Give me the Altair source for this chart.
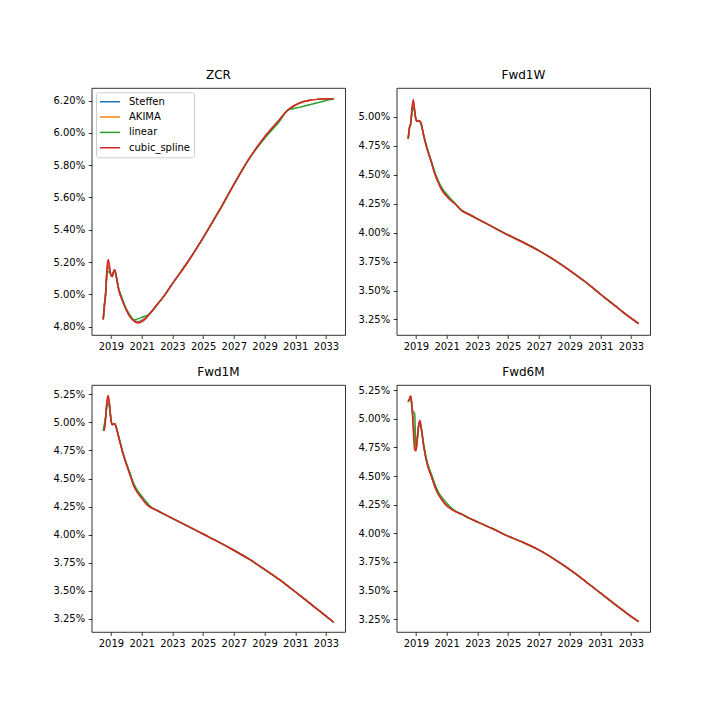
import altair as alt
import pandas as pd

SERIES = ["Steffen", "AKIMA", "linear", "cubic_spline"]
COLORS = ["#1f77b4", "#ff7f0e", "#2ca02c", "#d62728"]

T_EARLY = [2018.5, 2018.58, 2018.66, 2018.75, 2018.83, 2018.92, 2019.0, 2019.08, 2019.17,
           2019.25, 2019.33, 2019.5, 2019.67, 2019.83, 2020.0, 2020.25, 2020.5, 2020.75,
           2021.0, 2021.25, 2021.5]
T_TAIL = [2022.0, 2022.5, 2023.0, 2024.0, 2025.0, 2026.0, 2027.0, 2028.0, 2029.0, 2030.0,
          2030.5, 2031.0, 2031.5, 2032.0, 2032.5, 2033.0, 2033.5]
X_TICKS = [2019, 2021, 2023, 2025, 2027, 2029, 2031, 2033]

# ---- ZCR (%) ----
ZCR_STEFFEN = [4.845, 4.935, 5.01, 5.15, 5.17, 5.145, 5.12, 5.11, 5.138, 5.15, 5.12, 5.035,
               4.985, 4.945, 4.906, 4.862, 4.838, 4.83, 4.838, 4.855, 4.878]
ZCR_AKIMA = [4.845, 4.932, 5.005, 5.16, 5.19, 5.155, 5.12, 5.11, 5.14, 5.151, 5.12, 5.032,
             4.982, 4.942, 4.905, 4.861, 4.836, 4.826, 4.834, 4.851, 4.876]
ZCR_LINEAR = [4.845, 4.94, 5.02, 5.12, 5.14, 5.14, 5.12, 5.11, 5.135, 5.148, 5.12, 5.04,
              4.99, 4.95, 4.91, 4.87, 4.842, 4.848, 4.857, 4.866, 4.878]
ZCR_CUBIC = [4.845, 4.93, 5.0, 5.17, 5.215, 5.17, 5.12, 5.11, 5.14, 5.152, 5.12, 5.03,
             4.98, 4.94, 4.904, 4.86, 4.835, 4.822, 4.83, 4.848, 4.875]
ZCR_TAIL = [4.935, 4.995, 5.065, 5.2, 5.35, 5.51, 5.68, 5.84, 5.975, 6.085, 6.14, 6.172, 6.193,
            6.203, 6.208, 6.211, 6.212]
ZCR_TAIL_LINEAR = [4.935, 4.995, 5.065, 5.2, 5.35, 5.51, 5.68, 5.84, 5.965, 6.075, 6.14, 6.152,
                   6.164, 6.176, 6.188, 6.2, 6.212]

# ---- Fwd1W (%) ----
F1W_STEFFEN = [4.81, 4.905, 4.94, 5.06, 5.11, 5.05, 4.98, 4.962, 4.968, 4.963, 4.945, 4.845,
               4.755, 4.685, 4.615, 4.505, 4.425, 4.362, 4.322, 4.285, 4.257]
F1W_AKIMA = [4.81, 4.908, 4.94, 5.07, 5.13, 5.055, 4.98, 4.962, 4.969, 4.964, 4.948, 4.842,
             4.752, 4.682, 4.612, 4.502, 4.422, 4.358, 4.318, 4.282, 4.256]
F1W_LINEAR = [4.81, 4.9, 4.94, 5.05, 5.08, 5.04, 4.98, 4.962, 4.965, 4.96, 4.94, 4.85,
              4.76, 4.69, 4.62, 4.515, 4.435, 4.375, 4.335, 4.295, 4.26]
F1W_CUBIC = [4.81, 4.91, 4.94, 5.08, 5.15, 5.06, 4.98, 4.962, 4.97, 4.965, 4.95, 4.84,
             4.75, 4.68, 4.61, 4.5, 4.42, 4.355, 4.315, 4.28, 4.255]
F1W_TAIL = [4.19, 4.155, 4.12, 4.05, 3.98, 3.915, 3.845, 3.765, 3.675, 3.578, 3.525, 3.47,
            3.418, 3.365, 3.312, 3.262, 3.215]

# ---- Fwd1M (%) ----
F1M_STEFFEN = [4.93, 4.96, 5.05, 5.18, 5.21, 5.14, 5.03, 4.98, 4.985, 4.988, 4.963, 4.875,
               4.785, 4.705, 4.635, 4.537, 4.44, 4.38, 4.335, 4.29, 4.255]
F1M_AKIMA = [4.93, 4.95, 5.05, 5.19, 5.225, 5.145, 5.03, 4.98, 4.985, 4.989, 4.964, 4.872,
             4.782, 4.702, 4.632, 4.533, 4.435, 4.375, 4.33, 4.285, 4.252]
F1M_LINEAR = [4.93, 4.99, 5.05, 5.15, 5.17, 5.12, 5.03, 4.98, 4.985, 4.985, 4.96, 4.88,
              4.79, 4.71, 4.64, 4.545, 4.45, 4.39, 4.345, 4.3, 4.26]
F1M_CUBIC = [4.93, 4.93, 5.05, 5.2, 5.24, 5.15, 5.03, 4.98, 4.985, 4.99, 4.965, 4.87,
             4.78, 4.7, 4.63, 4.53, 4.43, 4.37, 4.325, 4.28, 4.25]
F1M_TAIL = [4.215, 4.18, 4.145, 4.075, 4.005, 3.935, 3.86, 3.78, 3.69, 3.595, 3.543, 3.49,
            3.436, 3.382, 3.327, 3.272, 3.218]

# ---- Fwd6M (%) ----
F6M_STEFFEN = [5.148, 5.17, 5.195, 5.095, 4.98, 4.85, 4.73, 4.81, 4.93, 4.982, 4.932, 4.772,
               4.645, 4.565, 4.505, 4.405, 4.335, 4.285, 4.245, 4.218, 4.196]
F6M_AKIMA = [5.148, 5.17, 5.197, 5.1, 4.94, 4.78, 4.725, 4.805, 4.93, 4.984, 4.931, 4.771,
             4.642, 4.562, 4.502, 4.402, 4.332, 4.282, 4.242, 4.216, 4.195]
F6M_LINEAR = [5.148, 5.17, 5.19, 5.09, 5.06, 5.045, 4.75, 4.82, 4.93, 4.975, 4.94, 4.78,
              4.66, 4.58, 4.52, 4.425, 4.35, 4.305, 4.265, 4.23, 4.2]
F6M_CUBIC = [5.148, 5.17, 5.198, 5.1, 4.9, 4.73, 4.72, 4.8, 4.93, 4.985, 4.93, 4.77,
             4.64, 4.56, 4.5, 4.4, 4.33, 4.28, 4.24, 4.215, 4.195]
F6M_TAIL = [4.165, 4.13, 4.1, 4.04, 3.975, 3.92, 3.855, 3.775, 3.685, 3.585, 3.532, 3.48,
            3.428, 3.376, 3.325, 3.275, 3.23]

PANELS = [
    ("ZCR", [ZCR_STEFFEN + ZCR_TAIL, ZCR_AKIMA + ZCR_TAIL, ZCR_LINEAR + ZCR_TAIL_LINEAR,
             ZCR_CUBIC + ZCR_TAIL], [4.748, 6.278], [4.8, 5.0, 5.2, 5.4, 5.6, 5.8, 6.0, 6.2]),
    ("Fwd1W", [F1W_STEFFEN + F1W_TAIL, F1W_AKIMA + F1W_TAIL, F1W_LINEAR + F1W_TAIL,
               F1W_CUBIC + F1W_TAIL], [3.116, 5.25], [3.25, 3.5, 3.75, 4.0, 4.25, 4.5, 4.75, 5.0]),
    ("Fwd1M", [F1M_STEFFEN + F1M_TAIL, F1M_AKIMA + F1M_TAIL, F1M_LINEAR + F1M_TAIL,
               F1M_CUBIC + F1M_TAIL], [3.131, 5.334],
     [3.25, 3.5, 3.75, 4.0, 4.25, 4.5, 4.75, 5.0, 5.25]),
    ("Fwd6M", [F6M_STEFFEN + F6M_TAIL, F6M_AKIMA + F6M_TAIL, F6M_LINEAR + F6M_TAIL,
               F6M_CUBIC + F6M_TAIL], [3.139, 5.294],
     [3.25, 3.5, 3.75, 4.0, 4.25, 4.5, 4.75, 5.0, 5.25]),
]

T_ALL = T_EARLY + T_TAIL


def panel(name, values, ydom, yticks, show_legend):
    rows = []
    for s, vals in zip(SERIES, values):
        for t, v in zip(T_ALL, vals):
            rows.append({"t": t, "v": v, "series": s})
    df = pd.DataFrame(rows)
    color_kwargs = dict(scale=alt.Scale(domain=SERIES, range=COLORS), sort=SERIES)
    if show_legend:
        color_kwargs["legend"] = alt.Legend(
            title=None, orient="none", legendX=4.3, legendY=4.3,
            symbolType="stroke", symbolSize=400, symbolStrokeWidth=1.5,
            labelFontSize=10, labelOffset=8, padding=3, clipHeight=13,
            rowPadding=2.3, strokeColor="#cccccc", cornerRadius=2,
            fillColor="rgba(255,255,255,0.8)", labelColor="black")
    else:
        color_kwargs["legend"] = None
    return alt.Chart(df).mark_line(strokeWidth=1.5, interpolate="monotone").encode(
        x=alt.X("t:Q", scale=alt.Scale(domain=[2017.75, 2034.25], nice=False, zero=False),
                axis=alt.Axis(values=X_TICKS, format="d", title=None, minExtent=22, maxExtent=22)),
        y=alt.Y("v:Q", scale=alt.Scale(domain=ydom, nice=False, zero=False),
                axis=alt.Axis(values=yticks, title=None, minExtent=50, maxExtent=50,
                              labelExpr="format(datum.value, '.2f') + '%'")),
        color=alt.Color("series:N", **color_kwargs),
    ).properties(width=253.5, height=247,
                 title=alt.TitleParams(name, fontSize=12, fontWeight="normal", offset=6,
                                       anchor="middle", color="black"))


p = [panel(n, v, d, t, i == 0) for i, (n, v, d, t) in enumerate(PANELS)]
top = alt.hconcat(p[0], p[1], spacing=0)
bottom = alt.hconcat(p[2], p[3], spacing=0)
chart = alt.vconcat(top, bottom, spacing=7).resolve_scale(color="shared").properties(
    padding={"left": 40.7, "top": 68, "right": 10, "bottom": 10}
).configure(font="DejaVu Sans").configure_view(
    stroke="black", strokeWidth=0.8
).configure_axis(
    domain=False, grid=False, tickColor="black", tickWidth=0.8, tickSize=3.5,
    labelFontSize=10, labelColor="black", labelPadding=3.5, labelFont="DejaVu Sans"
).configure_title(font="DejaVu Sans")

chart.save("out.html", embed_options={"renderer": "svg", "actions": False})
